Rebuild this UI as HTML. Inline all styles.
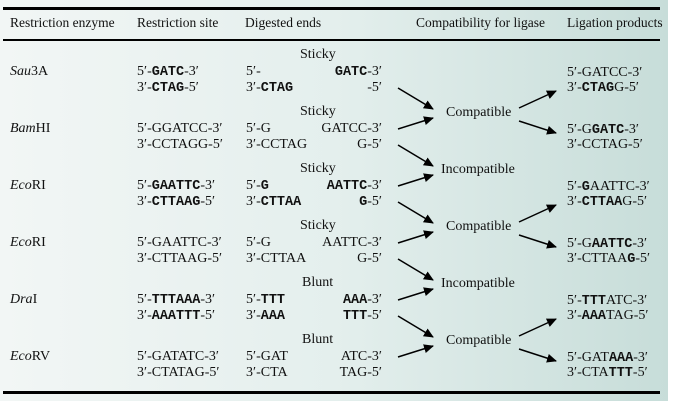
<!DOCTYPE html>
<html><head><meta charset="utf-8"><style>
html,body{margin:0;padding:0;background:#fff;}
#c{position:relative;width:694px;height:408px;overflow:hidden;font-family:"Liberation Serif",serif;font-size:14px;color:#111;}
#bg{position:absolute;left:0;top:0;width:668px;height:401px;background:linear-gradient(90deg,#f2f6f5 0%,#e4efed 50%,#c7ddd9 100%);}
.t{position:absolute;line-height:16px;white-space:nowrap;}
.h{font-size:13.5px;}
.r{text-align:right;}
b{font-family:"Liberation Mono",monospace;font-weight:bold;font-size:13.5px;}
.rule{position:absolute;left:3px;width:657px;background:#000;}
</style></head><body><div id="c">
<div id="bg"></div>
<div class="rule" style="top:7px;height:3px"></div>
<div class="rule" style="top:39px;height:1.5px"></div>
<div class="rule" style="top:391px;height:3px"></div>

<div class="t h" style="left:10px;top:15px">Restriction enzyme</div>
<div class="t h" style="left:137px;top:15px">Restriction site</div>
<div class="t h" style="left:245px;top:15px">Digested ends</div>
<div class="t h" style="left:416px;top:15px">Compatibility for ligase</div>
<div class="t h" style="left:567px;top:15px">Ligation products</div>

<div class="t" style="left:300px;top:47px">Sticky</div>
<div class="t" style="left:10px;top:64px"><i>Sau</i>3A</div>
<div class="t" style="left:137px;top:64px">5′-<b>GATC</b>-3′</div>
<div class="t" style="left:137px;top:80px">3′-<b>CTAG</b>-5′</div>
<div class="t" style="left:246px;top:64px">5′-</div>
<div class="t" style="left:246px;top:80px">3′-<b>CTAG</b></div>
<div class="t r" style="right:312px;top:64px"><b>GATC</b>-3′</div>
<div class="t r" style="right:312px;top:80px">-5′</div>
<div class="t" style="left:567px;top:65px">5′-GATCC-3′</div>
<div class="t" style="left:567px;top:80px">3′-<b>CTAG</b>G-5′</div>

<div class="t" style="left:300px;top:104px">Sticky</div>
<div class="t" style="left:10px;top:121px"><i>Bam</i>HI</div>
<div class="t" style="left:137px;top:121px">5′-GGATCC-3′</div>
<div class="t" style="left:137px;top:137px">3′-CCTAGG-5′</div>
<div class="t" style="left:246px;top:121px">5′-G</div>
<div class="t" style="left:246px;top:137px">3′-CCTAG</div>
<div class="t r" style="right:312px;top:121px">GATCC-3′</div>
<div class="t r" style="right:312px;top:137px">G-5′</div>
<div class="t" style="left:567px;top:122px">5′-G<b>GATC</b>-3′</div>
<div class="t" style="left:567px;top:137px">3′-CCTAG-5′</div>

<div class="t" style="left:300px;top:161px">Sticky</div>
<div class="t" style="left:10px;top:178px"><i>Eco</i>RI</div>
<div class="t" style="left:137px;top:178px">5′-<b>GAATTC</b>-3′</div>
<div class="t" style="left:137px;top:194px">3′-<b>CTTAAG</b>-5′</div>
<div class="t" style="left:246px;top:178px">5′-<b>G</b></div>
<div class="t" style="left:246px;top:194px">3′-<b>CTTAA</b></div>
<div class="t r" style="right:312px;top:178px"><b>AATTC</b>-3′</div>
<div class="t r" style="right:312px;top:194px"><b>G</b>-5′</div>
<div class="t" style="left:567px;top:179px">5′-<b>G</b>AATTC-3′</div>
<div class="t" style="left:567px;top:194px">3′-<b>CTTAA</b>G-5′</div>

<div class="t" style="left:300px;top:218px">Sticky</div>
<div class="t" style="left:10px;top:235px"><i>Eco</i>RI</div>
<div class="t" style="left:137px;top:235px">5′-GAATTC-3′</div>
<div class="t" style="left:137px;top:251px">3′-CTTAAG-5′</div>
<div class="t" style="left:246px;top:235px">5′-G</div>
<div class="t" style="left:246px;top:251px">3′-CTTAA</div>
<div class="t r" style="right:312px;top:235px">AATTC-3′</div>
<div class="t r" style="right:312px;top:251px">G-5′</div>
<div class="t" style="left:567px;top:236px">5′-G<b>AATTC</b>-3′</div>
<div class="t" style="left:567px;top:251px">3′-CTTAA<b>G</b>-5′</div>

<div class="t" style="left:302px;top:275px">Blunt</div>
<div class="t" style="left:10px;top:292px"><i>Dra</i>I</div>
<div class="t" style="left:137px;top:292px">5′-<b>TTTAAA</b>-3′</div>
<div class="t" style="left:137px;top:308px">3′-<b>AAATTT</b>-5′</div>
<div class="t" style="left:246px;top:292px">5′-<b>TTT</b></div>
<div class="t" style="left:246px;top:308px">3′-<b>AAA</b></div>
<div class="t r" style="right:312px;top:292px"><b>AAA</b>-3′</div>
<div class="t r" style="right:312px;top:308px"><b>TTT</b>-5′</div>
<div class="t" style="left:567px;top:293px">5′-<b>TTT</b>ATC-3′</div>
<div class="t" style="left:567px;top:308px">3′-<b>AAA</b>TAG-5′</div>

<div class="t" style="left:302px;top:332px">Blunt</div>
<div class="t" style="left:10px;top:349px"><i>Eco</i>RV</div>
<div class="t" style="left:137px;top:349px">5′-GATATC-3′</div>
<div class="t" style="left:137px;top:365px">3′-CTATAG-5′</div>
<div class="t" style="left:246px;top:349px">5′-GAT</div>
<div class="t" style="left:246px;top:365px">3′-CTA</div>
<div class="t r" style="right:312px;top:349px">ATC-3′</div>
<div class="t r" style="right:312px;top:365px">TAG-5′</div>
<div class="t" style="left:567px;top:350px">5′-GAT<b>AAA</b>-3′</div>
<div class="t" style="left:567px;top:365px">3′-CTA<b>TTT</b>-5′</div>

<div class="t" style="left:446px;top:105px">Compatible</div>
<div class="t" style="left:441px;top:162px">Incompatible</div>
<div class="t" style="left:446px;top:219px">Compatible</div>
<div class="t" style="left:441px;top:276px">Incompatible</div>
<div class="t" style="left:446px;top:333px">Compatible</div>

<svg style="position:absolute;left:0;top:0" width="694" height="408">
<defs><marker id="a" viewBox="0 0 10 10" refX="9" refY="5" markerWidth="10" markerHeight="10" markerUnits="userSpaceOnUse" orient="auto"><path d="M0,0.5 L10,5 L0,9.5 z" fill="#000"/></marker></defs>
<g stroke="#000" stroke-width="1.5" fill="none">
<line x1="398" y1="88" x2="433" y2="109" marker-end="url(#a)"/>
<line x1="398" y1="129" x2="433" y2="118" marker-end="url(#a)"/>
<line x1="398" y1="145" x2="433" y2="166" marker-end="url(#a)"/>
<line x1="398" y1="186" x2="433" y2="175" marker-end="url(#a)"/>
<line x1="398" y1="202" x2="433" y2="223" marker-end="url(#a)"/>
<line x1="398" y1="243" x2="433" y2="232" marker-end="url(#a)"/>
<line x1="398" y1="259" x2="433" y2="280" marker-end="url(#a)"/>
<line x1="398" y1="300" x2="433" y2="289" marker-end="url(#a)"/>
<line x1="398" y1="316" x2="433" y2="337" marker-end="url(#a)"/>
<line x1="398" y1="357" x2="433" y2="346" marker-end="url(#a)"/>
<line x1="519" y1="108" x2="556" y2="91" marker-end="url(#a)"/>
<line x1="519" y1="121" x2="556" y2="133" marker-end="url(#a)"/>
<line x1="519" y1="222" x2="556" y2="205" marker-end="url(#a)"/>
<line x1="519" y1="235" x2="556" y2="247" marker-end="url(#a)"/>
<line x1="519" y1="336" x2="556" y2="319" marker-end="url(#a)"/>
<line x1="519" y1="349" x2="556" y2="361" marker-end="url(#a)"/>
</g></svg>
</div></body></html>
